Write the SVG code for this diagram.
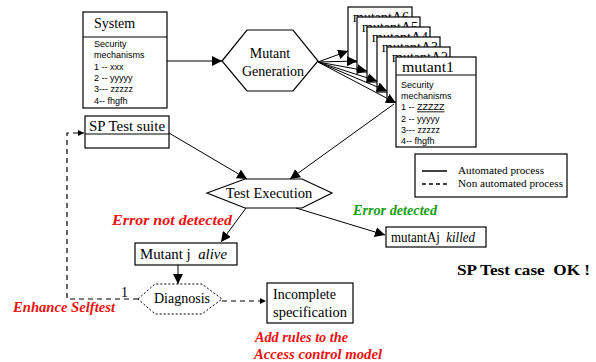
<svg xmlns="http://www.w3.org/2000/svg" width="596" height="362" viewBox="0 0 596 362">
<style>
.box{fill:#fff;stroke:#000;stroke-width:1.2}
.ln{fill:none;stroke:#000;stroke-width:1}
.dash{fill:none;stroke:#000;stroke-width:1.2;stroke-dasharray:5 4}
.ser{font-family:'Liberation Serif','DejaVu Serif',serif;fill:#000}
.sans{font-family:'Liberation Sans','DejaVu Sans',sans-serif;font-size:9px;fill:#000}
.red{font-family:'Liberation Serif','DejaVu Serif',serif;font-weight:bold;font-style:italic;fill:#f01010;font-size:15px}
.green{font-family:'Liberation Serif','DejaVu Serif',serif;font-weight:bold;font-style:italic;fill:#10a010;font-size:14px}
</style>
<defs>
<marker id="ah" markerUnits="userSpaceOnUse" markerWidth="12" markerHeight="10" refX="10" refY="5" orient="auto">
<path d="M0,0 L10,5 L0,10 Z" fill="#000"/>
</marker>
<marker id="ahs" markerUnits="userSpaceOnUse" markerWidth="8" markerHeight="6" refX="6" refY="3" orient="auto">
<path d="M0,0 L6,3 L0,6 Z" fill="#000"/>
</marker>
</defs>

<g id="system">
<rect class="box" x="83" y="12" width="84" height="96"/>
<line class="ln" x1="83" y1="37" x2="167" y2="37"/>
<text class="ser" x="94" y="28" font-size="14">System</text>
<text class="sans" x="94" y="47">Security</text>
<text class="sans" x="94" y="58.3">mechanisms</text>
<text class="sans" x="94" y="69.6">1 -- xxx</text>
<text class="sans" x="94" y="80.9">2 -- yyyyy</text>
<text class="sans" x="94" y="92.2">3--- zzzzz</text>
<text class="sans" x="94" y="103.5">4-- fhgfh</text>
</g>

<g id="mutant-generation">
<polygon class="box" points="222,61 247,30 293,30 318,61 293,91 247,91"/>
<text class="ser" x="270" y="58" font-size="14" text-anchor="middle">Mutant</text>
<text class="ser" x="273" y="76" font-size="14" text-anchor="middle">Generation</text>
</g>

<g id="mutantA6">
<rect class="box" x="348" y="7" width="64" height="55"/>
<text class="ser" x="353" y="22" font-size="14">mutantA6</text>
</g>
<g id="mutantA5">
<rect class="box" x="357" y="17" width="63" height="55"/>
<text class="ser" x="362" y="32" font-size="14">mutantA5</text>
</g>
<g id="mutantA4">
<rect class="box" x="367" y="27" width="63" height="55"/>
<text class="ser" x="372" y="42" font-size="14">mutantA4</text>
</g>
<g id="mutantA3">
<rect class="box" x="377" y="37" width="63" height="55"/>
<text class="ser" x="382" y="52" font-size="14">mutantA3</text>
</g>
<g id="mutantA2">
<rect class="box" x="387" y="47" width="63" height="55"/>
<text class="ser" x="392" y="62" font-size="14">mutantA2</text>
</g>
<g id="mutant1">
<rect class="box" x="396" y="57" width="80" height="90"/>
<line class="ln" x1="396" y1="75" x2="476" y2="75"/>
<text class="ser" x="402" y="72" font-size="15" textLength="52" lengthAdjust="spacingAndGlyphs">mutant1</text>
<text class="sans" x="401" y="88">Security</text>
<text class="sans" x="401" y="99.2">mechanisms</text>
<text class="sans" x="401" y="110.4">1 -- <tspan text-decoration="underline">ZZZZZ</tspan></text>
<text class="sans" x="401" y="121.6">2 -- yyyyy</text>
<text class="sans" x="401" y="132.8">3--- zzzzz</text>
<text class="sans" x="401" y="144">4-- fhgfh</text>
</g>

<g id="sp-test-suite">
<rect class="box" x="85" y="116" width="84" height="32"/>
<line class="ln" x1="85" y1="134" x2="169" y2="134"/>
<text class="ser" x="89" y="131" font-size="15" textLength="76" lengthAdjust="spacingAndGlyphs">SP Test suite</text>
</g>

<g id="test-execution">
<polygon class="box" points="207,193 245,179 302,179 332,193 302,208 245,208"/>
<text class="ser" x="269" y="198" font-size="14.5" text-anchor="middle">Test Execution</text>
</g>

<g id="mutant-j-alive">
<rect class="box" x="135" y="243" width="102" height="22"/>
<text class="ser" x="140" y="259" font-size="14" xml:space="preserve" textLength="87" lengthAdjust="spacingAndGlyphs">Mutant j  <tspan font-style="italic">alive</tspan></text>
</g>

<g id="mutantAj-killed">
<rect class="box" x="386" y="227" width="100" height="20"/>
<text class="ser" x="391" y="242" font-size="14" xml:space="preserve" textLength="84" lengthAdjust="spacingAndGlyphs">mutantAj  <tspan font-style="italic">killed</tspan></text>
</g>

<g id="diagnosis">
<polygon fill="#fff" stroke="#000" stroke-width="1" stroke-dasharray="2 2" points="138,299 155,284 202,284 222,299 202,314 155,314"/>
<text class="ser" x="182" y="303" font-size="14" text-anchor="middle">Diagnosis</text>
</g>

<g id="incomplete-specification">
<rect class="box" x="267" y="283" width="86" height="40"/>
<text class="ser" x="273" y="299" font-size="14" fill="#333">Incomplete</text>
<text class="ser" x="273" y="317" font-size="14" fill="#333" textLength="74" lengthAdjust="spacingAndGlyphs">specification</text>
</g>

<g id="legend">
<rect class="box" x="415" y="154" width="152" height="43"/>
<line x1="422" y1="171" x2="447" y2="171" stroke="#000" stroke-width="1.5"/>
<line x1="422" y1="184" x2="447" y2="184" stroke="#000" stroke-width="1.5" stroke-dasharray="4 3"/>
<text class="ser" x="458" y="174" font-size="11" textLength="86" lengthAdjust="spacingAndGlyphs">Automated process</text>
<text class="ser" x="458" y="187" font-size="11" textLength="105" lengthAdjust="spacingAndGlyphs">Non automated process</text>
</g>

<g id="connectors">
<line class="ln" x1="167" y1="61" x2="222" y2="61" marker-end="url(#ah)"/>
<line class="ln" x1="318" y1="62" x2="348" y2="51" marker-end="url(#ah)"/>
<line class="ln" x1="318" y1="62" x2="357" y2="61" marker-end="url(#ah)"/>
<line class="ln" x1="318" y1="62" x2="367" y2="71" marker-end="url(#ah)"/>
<line class="ln" x1="318" y1="62" x2="377" y2="81" marker-end="url(#ah)"/>
<line class="ln" x1="318" y1="62" x2="387" y2="91" marker-end="url(#ah)"/>
<line class="ln" x1="318" y1="62" x2="396" y2="103" marker-end="url(#ah)"/>
<line class="ln" x1="169" y1="133" x2="247" y2="179" marker-end="url(#ah)"/>
<line class="ln" x1="394" y1="104" x2="290" y2="179" marker-end="url(#ah)"/>
<line class="ln" x1="246" y1="208" x2="221" y2="242" marker-end="url(#ah)"/>
<line class="ln" x1="296" y1="208" x2="385" y2="235" marker-end="url(#ah)"/>
<line class="ln" x1="178" y1="265" x2="178" y2="284" marker-end="url(#ah)"/>
<line class="dash" x1="222" y1="301" x2="266" y2="301" marker-end="url(#ahs)"/>
<polyline class="dash" points="138,299 67,299 67,133 84,133" marker-end="url(#ahs)"/>
</g>

<text class="ser" x="121" y="297" font-size="14">1</text>
<text class="red" x="112" y="225" textLength="120" lengthAdjust="spacingAndGlyphs">Error not detected</text>
<text class="green" x="353" y="215" textLength="84" lengthAdjust="spacingAndGlyphs">Error detected</text>
<text class="red" x="13" y="312" font-size="14" textLength="102" lengthAdjust="spacingAndGlyphs">Enhance Selftest</text>
<text class="red" x="255" y="342" font-size="14" textLength="93" lengthAdjust="spacingAndGlyphs">Add rules to the</text>
<text class="red" x="254" y="359" font-size="14" textLength="128" lengthAdjust="spacingAndGlyphs">Access control model</text>
<text class="ser" x="457" y="275" font-size="15" font-weight="bold" xml:space="preserve" textLength="133" lengthAdjust="spacingAndGlyphs">SP Test case  OK !</text>
</svg>
